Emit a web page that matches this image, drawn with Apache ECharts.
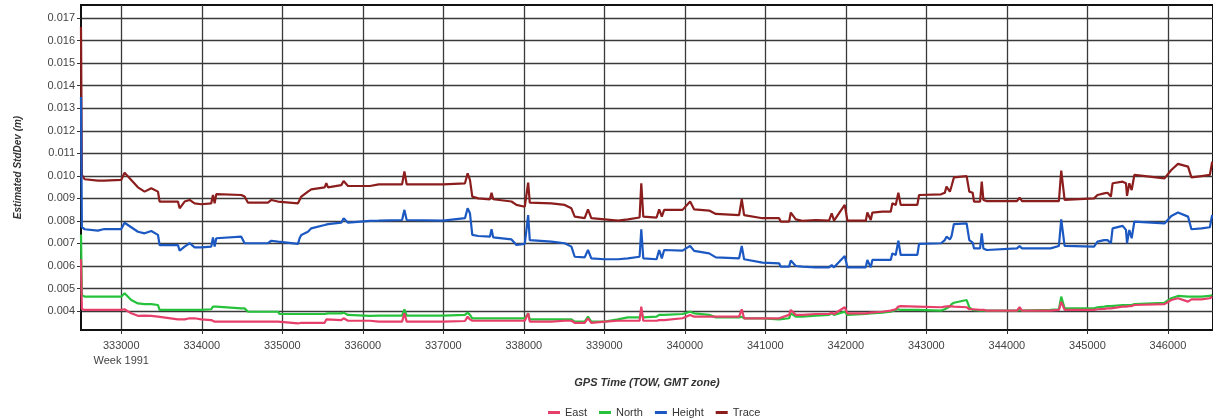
<!DOCTYPE html>
<html><head><meta charset="utf-8">
<script src="https://cdn.jsdelivr.net/npm/echarts@6/dist/echarts.min.js"></script>
<style>html,body{margin:0;padding:0;background:#fff}#c{width:1213px;height:419px}</style>
</head><body><div id="c"></div>
<script>
const times = [332500,332511,332545,332710,332790,333000,333041,333124,333207,333290,333373,333456,333476,333704,333725,333787,333849,333911,333994,334118,334139,334160,334180,334491,334532,334574,334822,334864,334946,334967,335195,335215,335236,335319,335360,335526,335547,335568,335733,335762,335816,336089,336198,336488,336517,336545,337000,337021,337269,337302,337331,337360,337434,337579,337599,337620,337847,337909,338012,338054,338074,338343,338508,338591,338632,338756,338797,338838,339004,339169,339293,339438,339459,339484,339649,339661,339681,339714,339743,339971,340066,340116,340302,340385,340674,340707,340736,340757,340964,341171,341191,341295,341316,341378,341460,341626,341791,341824,341853,341986,342019,342247,342267,342309,342329,342453,342557,342578,342619,342652,342681,342888,342909,343182,343229,343250,343292,343313,343342,343500,343533,343575,343592,343667,343688,343708,343750,344125,344158,344188,344542,344646,344675,344717,345083,345125,345208,345250,345292,345313,345438,345479,345492,345521,345550,345583,345958,346042,346125,346250,346292,346417,346521,346550];
const trace = [0.0166,0.01004,0.00985,0.00979,0.00979,0.00982,0.01014,0.00982,0.00949,0.0093,0.00945,0.0093,0.00886,0.00886,0.00856,0.00886,0.00893,0.00878,0.00874,0.00878,0.00915,0.00878,0.00919,0.00915,0.00908,0.00881,0.00881,0.00893,0.00886,0.00881,0.00878,0.00871,0.00908,0.0093,0.0094,0.00949,0.00967,0.00949,0.00959,0.00977,0.00955,0.00955,0.00962,0.00962,0.01019,0.00962,0.00962,0.00955,0.00967,0.01011,0.00982,0.00908,0.009,0.00896,0.00925,0.00896,0.00886,0.00871,0.00863,0.0097,0.00881,0.00878,0.00871,0.00856,0.00819,0.00812,0.00851,0.00812,0.00807,0.00801,0.00807,0.00815,0.00967,0.00819,0.00815,0.00815,0.00851,0.00819,0.00849,0.00849,0.00886,0.00851,0.00846,0.00831,0.00826,0.00896,0.00826,0.00819,0.00812,0.00812,0.00797,0.00797,0.00837,0.00807,0.008,0.00804,0.00801,0.00834,0.00801,0.00871,0.00801,0.00801,0.00837,0.00804,0.00837,0.00841,0.00841,0.00878,0.00871,0.00925,0.00871,0.00871,0.00915,0.00918,0.00925,0.00952,0.0093,0.00955,0.00993,0.00999,0.0093,0.00925,0.00886,0.00886,0.00974,0.00893,0.00888,0.00888,0.00903,0.00888,0.00888,0.00888,0.01023,0.00893,0.009,0.00915,0.00922,0.00925,0.00908,0.00967,0.00974,0.00967,0.00911,0.00967,0.00937,0.01004,0.00989,0.01026,0.01053,0.01041,0.00993,0.00999,0.01004,0.01063];
const height = [0.0135,0.00772,0.00763,0.00757,0.00764,0.00764,0.00792,0.00772,0.00752,0.00745,0.00755,0.00738,0.00693,0.00693,0.00668,0.00686,0.00701,0.00683,0.00683,0.00686,0.00727,0.00686,0.00723,0.0073,0.00701,0.00701,0.00701,0.00712,0.00708,0.00708,0.00698,0.00723,0.00738,0.00752,0.00767,0.00782,0.00786,0.00786,0.00792,0.00812,0.00792,0.008,0.00801,0.00804,0.00849,0.00804,0.00801,0.00801,0.00812,0.00856,0.00834,0.00738,0.00733,0.0073,0.00763,0.00727,0.00718,0.00693,0.00698,0.00826,0.00715,0.00708,0.00701,0.00686,0.00641,0.00638,0.00671,0.00634,0.0063,0.0063,0.00634,0.00641,0.00763,0.00634,0.0063,0.00634,0.00671,0.00634,0.00671,0.00668,0.00689,0.00667,0.00656,0.00638,0.00634,0.00689,0.0063,0.00627,0.00615,0.00612,0.00597,0.00597,0.00624,0.006,0.00597,0.00594,0.00594,0.00604,0.00594,0.00644,0.00594,0.00594,0.00627,0.00594,0.00627,0.00627,0.00627,0.00656,0.00649,0.00712,0.00649,0.00649,0.00698,0.00701,0.00715,0.0073,0.00718,0.00733,0.00786,0.00789,0.00715,0.00704,0.00678,0.00678,0.00745,0.00678,0.00671,0.00678,0.00689,0.00678,0.00678,0.00689,0.00807,0.00689,0.00686,0.00708,0.00715,0.00715,0.00701,0.00767,0.00778,0.0076,0.00701,0.0076,0.00723,0.00797,0.00789,0.00822,0.00837,0.00819,0.00763,0.00767,0.00772,0.00826];
const north = [0.0074,0.00471,0.00464,0.00464,0.00464,0.00464,0.00479,0.00449,0.00434,0.00431,0.00431,0.00427,0.00405,0.00405,0.00405,0.00405,0.00405,0.00405,0.00405,0.00408,0.0042,0.00417,0.0042,0.00412,0.00412,0.00397,0.00397,0.00397,0.00397,0.00387,0.00387,0.00387,0.00387,0.00387,0.00387,0.00387,0.0039,0.0039,0.0039,0.00393,0.00383,0.00379,0.0038,0.0038,0.00408,0.0038,0.0038,0.0038,0.00383,0.00393,0.00383,0.00368,0.00368,0.00368,0.00375,0.00368,0.00368,0.00368,0.00368,0.0039,0.00363,0.00363,0.00363,0.00363,0.00353,0.00353,0.00375,0.00353,0.00353,0.00363,0.00372,0.00372,0.0039,0.00372,0.00375,0.00379,0.00383,0.00383,0.00383,0.00387,0.00397,0.0039,0.00383,0.00372,0.00372,0.00375,0.00368,0.00368,0.00368,0.00363,0.00363,0.00368,0.0039,0.00375,0.00375,0.0038,0.00383,0.0039,0.00383,0.00397,0.00383,0.00387,0.0039,0.0039,0.0039,0.00393,0.00397,0.00405,0.00405,0.00408,0.00405,0.00405,0.00401,0.00402,0.00408,0.00408,0.0042,0.00431,0.00437,0.00449,0.00417,0.00405,0.00402,0.00402,0.00408,0.00402,0.00402,0.00402,0.00405,0.00402,0.00405,0.00408,0.00464,0.00412,0.00412,0.00417,0.0042,0.00422,0.00422,0.00427,0.00427,0.00427,0.00427,0.00427,0.00427,0.00431,0.00437,0.00457,0.00467,0.00464,0.00464,0.00464,0.00467,0.00471];
const east = [0.0063,0.00408,0.00405,0.00405,0.00405,0.00405,0.00408,0.0039,0.00379,0.0038,0.00379,0.00375,0.00368,0.00363,0.00363,0.00363,0.00368,0.00368,0.00363,0.0036,0.00357,0.00353,0.00353,0.00353,0.00353,0.00353,0.00353,0.00353,0.00353,0.00348,0.00345,0.00345,0.00348,0.00348,0.00348,0.00348,0.00363,0.00363,0.0036,0.00368,0.00357,0.00357,0.00353,0.00353,0.0039,0.00353,0.00353,0.00353,0.00356,0.00375,0.00363,0.00357,0.00357,0.00357,0.00363,0.00357,0.00357,0.00357,0.00357,0.0039,0.00353,0.00353,0.00357,0.00357,0.00348,0.00348,0.00368,0.00348,0.00353,0.00357,0.00357,0.00357,0.0042,0.00357,0.00357,0.00357,0.0036,0.0036,0.0036,0.00368,0.00383,0.00375,0.00375,0.00375,0.00375,0.00408,0.00368,0.00368,0.00368,0.00368,0.00368,0.00383,0.00405,0.00383,0.00383,0.00387,0.00387,0.00393,0.00387,0.00417,0.0039,0.0039,0.00393,0.00393,0.00393,0.00397,0.00402,0.00405,0.00408,0.0042,0.00422,0.0042,0.0042,0.00417,0.0042,0.00427,0.00422,0.0042,0.0042,0.00417,0.00408,0.00408,0.00405,0.00405,0.00408,0.00405,0.00402,0.00402,0.00417,0.00402,0.00402,0.00405,0.00441,0.00405,0.00405,0.00408,0.0041,0.00412,0.00412,0.00417,0.0042,0.0042,0.0042,0.00422,0.00422,0.00427,0.00431,0.00449,0.00457,0.00442,0.00452,0.00452,0.00457,0.00464];
const xTicks = [333000,334000,335000,336000,337000,338000,339000,340000,341000,342000,343000,344000,345000,346000];
const yTicks = [0.004,0.005,0.006,0.007,0.008,0.009,0.010,0.011,0.012,0.013,0.014,0.015,0.016,0.017];
const seriesNames = ['East','North','Height','Trace'];
const seriesValues = [east, north, height, trace];
const colors = ['#e6406a','#27c23c','#1c58c2','#8c1d1d'];
const FF = '"Liberation Sans", Arial, sans-serif';
function pairs(vals){ return times.map((t,i)=>[t, vals[i]]); }
const chart = echarts.init(document.getElementById('c'), null, {renderer:'canvas'});
chart.setOption({
  animation:false,
  textStyle:{fontFamily:FF},
  grid:{left:81,right:0,top:5,bottom:89,show:true,borderColor:'#111',borderWidth:2,containLabel:false},
  legend:{data:seriesNames, left:543, top:402, icon:'rect', itemWidth:12, itemHeight:3, itemGap:12,
    textStyle:{fontSize:11,color:'#333',fontFamily:FF}},
  xAxis:{type:'value', min:332500, max:346560,
    axisLine:{show:true,onZero:false,lineStyle:{color:'#111',width:2}},
    axisTick:{show:true,customValues:xTicks,length:4,lineStyle:{color:'#333'}},
    axisLabel:{customValues:xTicks, formatter:v=> v===333000 ? '333000\nWeek 1991' : String(v),
      color:'#444',fontSize:11,margin:8,lineHeight:15,fontFamily:FF},
    splitLine:{show:true,lineStyle:{color:'#3a3a3a',width:1.3}},
    name:'GPS Time (TOW, GMT zone)', nameLocation:'middle', nameGap:47,
    nameTextStyle:{fontStyle:'italic',fontWeight:'bold',fontSize:11,color:'#333',fontFamily:FF}},
  yAxis:{type:'value', min:0.00316, max:0.01758,
    axisLine:{show:true,lineStyle:{color:'#111',width:2}},
    axisTick:{show:true,customValues:yTicks,length:4,lineStyle:{color:'#333'}},
    axisLabel:{customValues:yTicks, formatter:v=>v.toFixed(3), color:'#444',fontSize:11,margin:6,fontFamily:FF},
    splitLine:{show:true,lineStyle:{color:'#3a3a3a',width:1.3}},
    name:'Estimated StdDev (m)', nameLocation:'middle', nameGap:58,
    nameTextStyle:{fontStyle:'italic',fontWeight:'bold',fontSize:10,color:'#333',fontFamily:FF}},
  series: seriesNames.map((n,i)=>({name:n,type:'line',data:pairs(seriesValues[i]),showSymbol:false,
    color:colors[i], lineStyle:{width:2.2,color:colors[i]}, z:10-i}))
});
</script></body></html>
